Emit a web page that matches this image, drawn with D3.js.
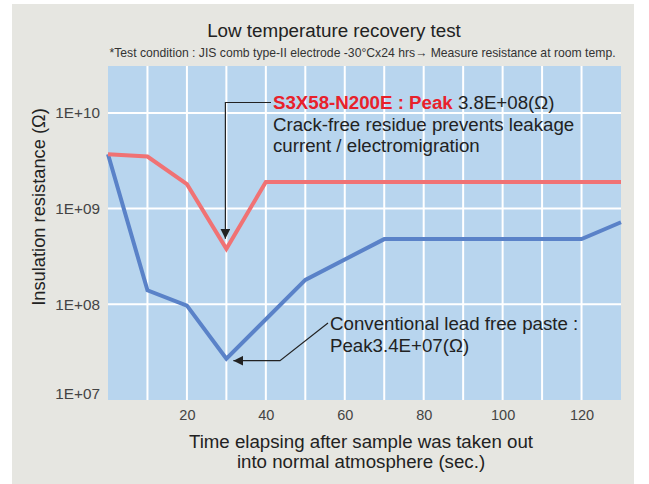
<!DOCTYPE html>
<html><head><meta charset="utf-8">
<script src="https://cdn.jsdelivr.net/npm/d3@7"></script>
<style>
body{margin:0;background:#fff;}
svg{display:block;font-family:"Liberation Sans",Arial,Helvetica,sans-serif;}
</style></head>
<body><svg id="c" width="649" height="484"></svg>
<script>
const times = [0,10,20,30,40,50,60,70,80,90,100,110,120,130];
const s3x58 = [3.7e9,3.5e9,1.8e9,3.8e8,1.9e9,1.9e9,1.9e9,1.9e9,1.9e9,1.9e9,1.9e9,1.9e9,1.9e9,1.9e9];
const convTimes = [0,10,20,30,50,70,80,90,100,110,120,130];
const conventional = [3.7e9,1.4e8,9.7e7,2.7e7,1.8e8,4.8e8,4.8e8,4.8e8,4.8e8,4.8e8,4.8e8,7.2e8];
const xTicks = [20,40,60,80,100,120];
const xGrid = [10,20,30,40,50,60,70,80,90,100,110,120];
const yTicks = [1e7,1e8,1e9,1e10];
const yTickLabels = ["1E+07","1E+08","1E+09","1E+10"];

const svg = d3.select("#c");
const x = d3.scaleLinear().domain([0,130]).range([108,621]);
const y = d3.scaleLog().domain([1e7, Math.pow(10,10.49)]).range([400,66]);

svg.append("rect").attr("x",12).attr("y",4).attr("width",622).attr("height",480).attr("fill","#e6e6e1");
svg.append("rect").attr("x",x(0)).attr("y",y.range()[1]).attr("width",x(130)-x(0)).attr("height",y.range()[0]-y.range()[1]).attr("fill","#b8d5ee");

svg.append("g").selectAll("line").data(xGrid).join("line")
  .attr("x1",d=>x(d)).attr("x2",d=>x(d)).attr("y1",y.range()[1]).attr("y2",y.range()[0])
  .attr("stroke","#fff").attr("stroke-width",2);
svg.append("g").selectAll("line").data(yTicks.slice(1)).join("line")
  .attr("x1",x(0)).attr("x2",x(130)).attr("y1",d=>y(d)).attr("y2",d=>y(d))
  .attr("stroke","#fff").attr("stroke-width",2);

// axes
const xAxis = d3.axisBottom(x).tickValues(xTicks).tickSize(0).tickPadding(10);
const gx = svg.append("g").attr("transform",`translate(0,${y.range()[0]})`).call(xAxis);
gx.select(".domain").remove();
gx.selectAll("text").attr("font-size",14.5).attr("fill","#444").attr("font-family","Liberation Sans, Arial, sans-serif");

const yAxis = d3.axisLeft(y).tickValues(yTicks).tickFormat((d,i)=>yTickLabels[i]).tickSize(0).tickPadding(8);
const gy = svg.append("g").attr("transform",`translate(${x(0)},0)`).call(yAxis);
gy.select(".domain").remove();
gy.selectAll("text").attr("font-size",15.3).attr("fill","#444").attr("font-family","Liberation Sans, Arial, sans-serif");
gy.selectAll(".tick").filter(d=>d===1e7).select("text").attr("dy","-0.1em");

// lines
const line = d3.line().x(d=>x(d[0])).y(d=>y(d[1]));
svg.append("path").datum(convTimes.map((t,i)=>[t,conventional[i]])).attr("d",line)
  .attr("fill","none").attr("stroke","#5a82c8").attr("stroke-width",4).attr("stroke-linejoin","miter");
svg.append("path").datum(times.map((t,i)=>[t,s3x58[i]])).attr("d",line)
  .attr("fill","none").attr("stroke","#f07274").attr("stroke-width",4).attr("stroke-linejoin","miter");

// markers
const defs = svg.append("defs");
defs.append("marker").attr("id","ah").attr("viewBox","0 0 10 10").attr("refX",10).attr("refY",5)
  .attr("markerWidth",10).attr("markerHeight",10).attr("markerUnits","userSpaceOnUse").attr("orient","auto")
  .append("path").attr("d","M0,0 L10,5 L0,10 Z").attr("fill","#222");

const FS = 18.7;
// red annotation
const rx = x(30)-1, ry = y(3.8e8)-10;
svg.append("path").attr("d",`M271,102.5 L${rx},102.5 L${rx},${ry}`)
  .attr("fill","none").attr("stroke","#222").attr("stroke-width",1.2).attr("marker-end","url(#ah)");
const t1 = svg.append("text").attr("x",273).attr("y",109).attr("font-size",FS).attr("fill","#222");
t1.append("tspan").attr("fill","#e8212b").attr("font-weight","bold").text("S3X58-N200E : Peak");
t1.append("tspan").text(" 3.8E+08(Ω)");
svg.append("text").attr("x",273).attr("y",130.5).attr("font-size",FS).attr("fill","#222").text("Crack-free residue prevents leakage");
svg.append("text").attr("x",273).attr("y",152).attr("font-size",FS).attr("fill","#222").text("current / electromigration");

// blue annotation
const bx = x(30)+7, by = y(2.7e7)+2;
svg.append("path").attr("d",`M328,323 L280,${by} L${bx},${by}`)
  .attr("fill","none").attr("stroke","#222").attr("stroke-width",1.2).attr("marker-end","url(#ah)");
svg.append("text").attr("x",330).attr("y",329.5).attr("font-size",FS).attr("fill","#222").text("Conventional lead free paste :");
svg.append("text").attr("x",330).attr("y",351.5).attr("font-size",FS).attr("fill","#222").text("Peak3.4E+07(Ω)");

// titles
svg.append("text").attr("x",334).attr("y",36.5).attr("text-anchor","middle").attr("font-size",18.8).attr("fill","#222").text("Low temperature recovery test");
svg.append("text").attr("x",362.5).attr("y",57).attr("text-anchor","middle").attr("font-size",12.2).attr("fill","#333")
  .text("*Test condition : JIS comb type-II electrode -30°Cx24 hrs→ Measure resistance at room temp.");
svg.append("text").attr("x",361).attr("y",448).attr("text-anchor","middle").attr("font-size",FS).attr("fill","#222").text("Time elapsing after sample was taken out");
svg.append("text").attr("x",361).attr("y",468).attr("text-anchor","middle").attr("font-size",FS).attr("fill","#222").text("into normal atmosphere (sec.)");
svg.append("text").attr("transform","translate(45,207) rotate(-90)").attr("text-anchor","middle").attr("font-size",18.3).attr("fill","#222").text("Insulation resistance (Ω)");
</script></body></html>
